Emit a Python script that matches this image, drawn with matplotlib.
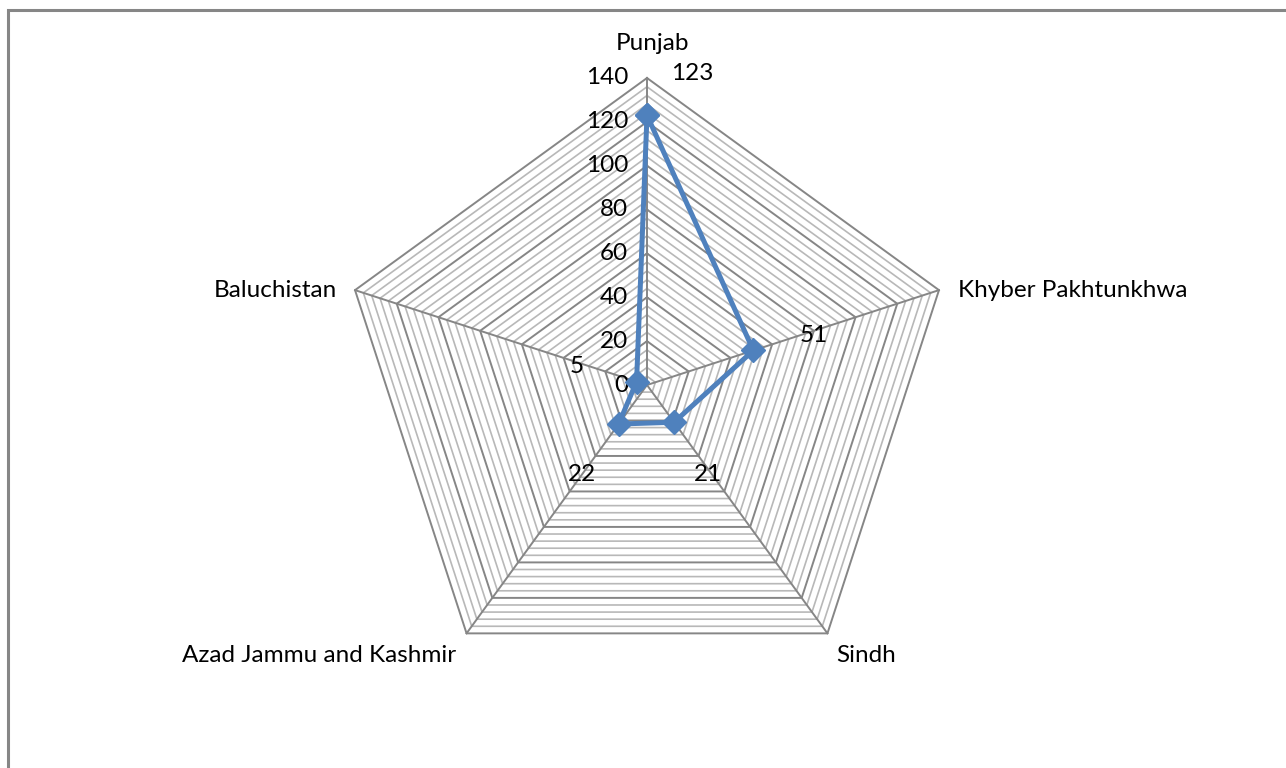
import numpy as np
import matplotlib.pyplot as plt
from matplotlib.patches import Rectangle

categories = ['Punjab', 'Khyber Pakhtunkhwa', 'Sindh', 'Azad Jammu and Kashmir', 'Baluchistan']
values = [123, 51, 21, 22, 5]
major_ticks = [0, 20, 40, 60, 80, 100, 120, 140]
minor_step = 4
rmax = 140

plt.rcParams['font.family'] = ['Lato', 'DejaVu Sans']
FS = 17.5

W, H = 1286, 768
cx, cy = 647, 385          # centre in pixels (from top)
R = 307                    # pixels for rmax
s = rmax / R               # data units per pixel

fig = plt.figure(figsize=(W / 100, H / 100), dpi=100)
ax = fig.add_axes([0, 0, 1, 1])
ax.set_xlim(-cx * s, (W - cx) * s)
ax.set_ylim(-(H - cy) * s, cy * s)
ax.axis('off')

n = len(categories)
ang = np.pi / 2 - 2 * np.pi * np.arange(n) / n
ang_c = np.append(ang, ang[0])

# gridlines
for r in np.arange(minor_step, rmax + 1, minor_step):
    if r % 20 == 0:
        continue
    ax.plot(r * np.cos(ang_c), r * np.sin(ang_c), color='#b8b8b8', lw=1.2, zorder=1)
for r in major_ticks[1:]:
    ax.plot(r * np.cos(ang_c), r * np.sin(ang_c), color='#868686', lw=1.4, zorder=2)
for a in ang:
    ax.plot([0, rmax * np.cos(a)], [0, rmax * np.sin(a)], color='#868686', lw=1.4, zorder=2)

# tick labels along the top axis
for t in major_ticks:
    ax.annotate(str(t), (0, t), xytext=(-19, 0), textcoords='offset pixels',
                ha='right', va='center', fontsize=FS)

# category labels
lab_off = [(5, 34, 'center'), (19, 0, 'left'), (9, -22, 'left'), (-10, -22, 'right'), (-18, 0, 'right')]
for a, c, (dx, dy, ha) in zip(ang, categories, lab_off):
    ax.annotate(c, (rmax * np.cos(a), rmax * np.sin(a)), xytext=(dx, dy),
                textcoords='offset pixels', ha=ha, va='center', fontsize=FS)

# series
v = np.array(values, dtype=float)
xs = v * np.cos(ang)
ys = v * np.sin(ang)
ax.plot(np.append(xs, xs[0]), np.append(ys, ys[0]), color='#4f81bd', lw=3.6,
        marker='D', markersize=12.5, zorder=5)

# data labels
dl_off = [(45, 42), (60, 15), (34, -52), (-37, -50), (-60, 15)]
for x, y, val, (dx, dy) in zip(xs, ys, values, dl_off):
    ax.annotate(str(val), (x, y), xytext=(dx, dy), textcoords='offset pixels',
                ha='center', va='center', fontsize=FS)

# chart frame (only top/left visible)
fig.patches.append(Rectangle((8 / W, -0.2), 1.2, (H - 10) / H + 0.2, transform=fig.transFigure,
                             fill=False, edgecolor='#868686', lw=2.2))

fig.savefig('out.png', dpi=100)
